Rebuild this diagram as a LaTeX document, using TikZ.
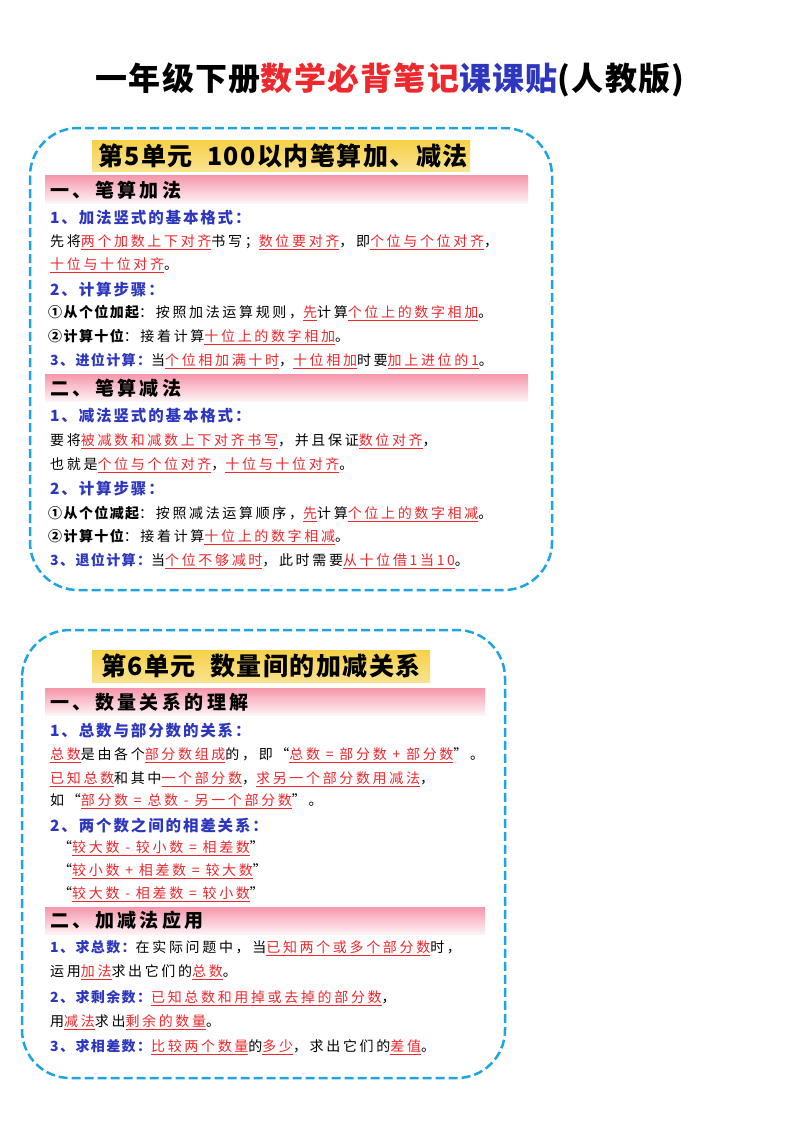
\documentclass[tikz,border=0pt]{standalone}
\usepackage{fontspec}
\setmainfont{Noto Sans CJK SC}
\definecolor{rd}{RGB}{238,40,45}
\definecolor{bl}{RGB}{45,55,190}
\definecolor{cy}{RGB}{30,165,225}
\definecolor{pk}{RGB}{245,150,170}
\definecolor{yl}{RGB}{246,208,70}
\newcommand\ur[1]{\textcolor{rd}{\underline{#1}}}
\newcommand\bk[1]{{\bfseries\addfontfeature{LetterSpace=10}#1}}
\newcommand\bb[1]{{\bfseries\color{bl}\addfontfeature{LetterSpace=10}#1}}
\begin{document}
\begin{tikzpicture}[x=1pt,y=-1pt,
 txt/.style={anchor=west,inner sep=0pt,font=\fontsize{14}{16}\selectfont\addfontfeature{LetterSpace=19}},
 hd/.style={anchor=west,inner sep=0pt,text=bl,font=\fontsize{15.5}{17}\selectfont\bfseries\addfontfeature{LetterSpace=12}},
 sec/.style={anchor=west,inner sep=0pt,font=\fontsize{19}{21}\selectfont\bfseries\addfontfeature{LetterSpace=18}},
 unit/.style={inner sep=0pt,font=\fontsize{25}{27}\selectfont\bfseries\addfontfeature{LetterSpace=6}},
 dbox/.style={draw=cy,line width=2.5pt,dash pattern=on 9pt off 4pt,rounded corners=48pt},
 pbar/.style={top color=pk,bottom color=pk!12,draw=none},
 ybar/.style={top color=yl,bottom color=yl!60,draw=none}]
\useasboundingbox (0,0) rectangle (800,1130);
\fill[white] (0,0) rectangle (800,1130);
\node[inner sep=0pt,font=\fontsize{32}{34}\selectfont\bfseries\addfontfeature{LetterSpace=4}] (title) at (390,80) {一年级下册\textcolor{rd}{数学必背笔记}\textcolor{bl}{课课贴}(人教版)};
% box 1
\draw[dbox] (30,128) rectangle (552,590);
\fill[ybar] (92,140) rectangle (470,171);
\node[unit] (u5) at (283,156) {第5单元\ \ 100以内笔算加、减法};
\fill[pbar] (45,175) rectangle (528,203);
\node[sec] (s1) at (50,190) {一、笔算加法};
\node[hd] (h1) at (50,218) {1、加法竖式的基本格式：};
\node[txt] (l1) at (50,242) {先将\ur{两个加数上下对齐}书写；\ur{数位要对齐}，即\ur{个位与个位对齐}，};
\node[txt] (l2) at (50,265) {\ur{十位与十位对齐}。};
\node[hd] (h2) at (50,290) {2、计算步骤：};
\node[txt] (l3) at (48,313) {\bk{①从个位加起}：按照加法运算规则，\ur{先}计算\ur{个位上的数字相加}。};
\node[txt] (l4) at (48,337) {\bk{②计算十位}：接着计算\ur{十位上的数字相加}。};
\node[txt] (l5) at (50,361) {\bb{3、进位计算：}当\ur{个位相加满十时}，\ur{十位相加}时要\ur{加上进位的1}。};
\fill[pbar] (45,374) rectangle (528,401);
\node[sec] (s2) at (50,388) {二、笔算减法};
\node[hd] (h3) at (50,416) {1、减法竖式的基本格式：};
\node[txt] (l6) at (50,441) {要将\ur{被减数和减数上下对齐书写}，并且保证\ur{数位对齐}，};
\node[txt] (l7) at (50,465) {也就是\ur{个位与个位对齐}，\ur{十位与十位对齐}。};
\node[hd] (h4) at (50,489) {2、计算步骤：};
\node[txt] (l8) at (48,514) {\bk{①从个位减起}：按照减法运算顺序，\ur{先}计算\ur{个位上的数字相减}。};
\node[txt] (l9) at (48,537) {\bk{②计算十位}：接着计算\ur{十位上的数字相减}。};
\node[txt] (l10) at (50,561) {\bb{3、退位计算：}当\ur{个位不够减时}，此时需要\ur{从十位借1当10}。};
% box 2
\draw[dbox] (22,630) rectangle (505,1078);
\fill[ybar] (92,650) rectangle (430,682);
\node[unit] (u6) at (261,666) {第6单元\ \ 数量间的加减关系};
\fill[pbar] (45,688) rectangle (485,715);
\node[sec] (s3) at (50,702) {一、数量关系的理解};
\node[hd] (h5) at (50,731) {1、总数与部分数的关系：};
\node[txt] (m1) at (50,755) {\ur{总数}是由各个\ur{部分数组成}的，即“\ur{总数 = 部分数 + 部分数}”。};
\node[txt] (m2) at (50,779) {\ur{已知总数}和其中\ur{一个部分数}，\ur{求另一个部分数用减法}，};
\node[txt] (m3) at (50,801) {如“\ur{部分数 = 总数 - 另一个部分数}”。};
\node[hd] (h6) at (50,826) {2、两个数之间的相差关系：};
\node[txt] (m4) at (58,848) {“\ur{较大数 - 较小数 = 相差数}”};
\node[txt] (m5) at (58,871) {“\ur{较小数 + 相差数 = 较大数}”};
\node[txt] (m6) at (58,894) {“\ur{较大数 - 相差数 = 较小数}”};
\fill[pbar] (45,907) rectangle (485,934);
\node[sec] (s4) at (50,920) {二、加减法应用};
\node[txt] (n1) at (50,948) {\bb{1、求总数：}在实际问题中，当\ur{已知两个或多个部分数}时，};
\node[txt] (n2) at (50,972) {运用\ur{加法}求出它们的\ur{总数}。};
\node[txt] (n3) at (50,998) {\bb{2、求剩余数：}\ur{已知总数和用掉或去掉的部分数}，};
\node[txt] (n4) at (50,1022) {用\ur{减法}求出\ur{剩余的数量}。};
\node[txt] (n5) at (50,1047) {\bb{3、求相差数：}\ur{比较两个数量}的\ur{多少}，求出它们的\ur{差值}。};
\end{tikzpicture}
\end{document}
